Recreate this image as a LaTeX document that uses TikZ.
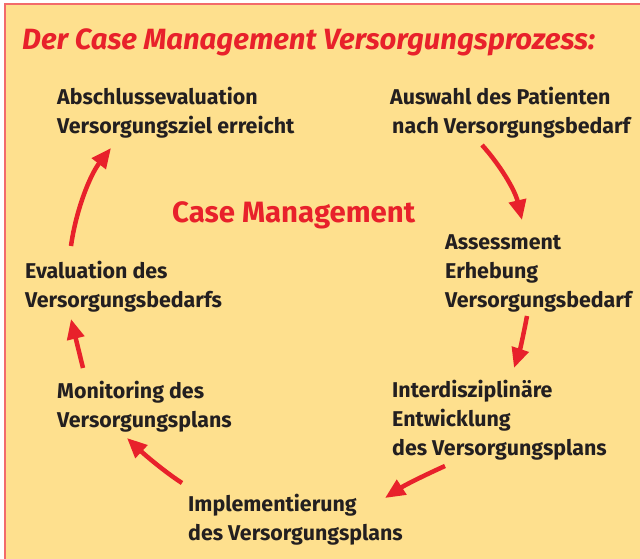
\documentclass[tikz,border=0pt]{standalone}
\usepackage{fontspec}
\setmainfont{Fira Sans}
\usetikzlibrary{arrows.meta}
\definecolor{bgfill}{HTML}{FEE08E}
\definecolor{frame}{HTML}{F26B6B}
\definecolor{cmred}{HTML}{E8212B}
\definecolor{txt}{HTML}{231F20}
\tikzset{
  lbl/.style={anchor=base west, inner sep=0pt, align=left, text=txt,
    font=\fontsize{21.4}{29}\selectfont\bfseries},
  cyc/.style={draw=cmred, line width=4.5pt,
    -{Triangle[length=20pt,width=17pt]}},
}
\begin{document}
\begin{tikzpicture}[x=1pt,y=-1pt]
\useasboundingbox (0,0) rectangle (640,559);
\fill[white] (0,0) rectangle (640,559);
\fill[bgfill] (5,4) rectangle (640,559);
\draw[frame, line width=1.5pt] (5,559) -- (5,4) -- (640,4);
\node[anchor=base west, inner sep=0pt, text=cmred,
  font=\fontsize{29.3}{30}\selectfont\bfseries\itshape] (title) at (22,50)
  {Der Case Management Versorgungsprozess:};
\node[anchor=base west, inner sep=0pt, text=cmred,
  font=\fontsize{29.4}{30}\selectfont\bfseries] (cm) at (172,222) {Case Management};
\node[lbl] (abschl) at (57,134) {Abschlussevaluation\\Versorgungsziel erreicht};
\node[lbl] (auswahl) at (390,134) {Auswahl des Patienten\\\hspace*{2pt}nach Versorgungsbedarf};
\node[lbl] (assess) at (445,307) {Assessment\\Erhebung\\Versorgungsbedarf};
\node[lbl] (inter) at (392,455) {Interdisziplinäre\\Entwicklung\\des Versorgungsplans};
\node[lbl] (impl) at (188,540) {Implementierung\\des Versorgungsplans};
\node[lbl] (monit) at (57,427) {Monitoring des\\Versorgungsplans};
\node[lbl] (evalu) at (25,307) {Evaluation des\\Versorgungsbedarfs};
\coordinate (a1s) at (482,145); \coordinate (a1e) at (522,220);
\coordinate (a2s) at (527,316); \coordinate (a2e) at (514,368);
\coordinate (a3s) at (445,466); \coordinate (a3e) at (385,498);
\coordinate (a4s) at (182,483); \coordinate (a4e) at (127,438);
\coordinate (a5s) at (83,368);  \coordinate (a5e) at (71,319);
\coordinate (a6s) at (71,246);  \coordinate (a6e) at (111,148);
\draw[cyc] (a1s) .. controls (500,165) and (515,190) .. (a1e);
\draw[cyc] (a2s) .. controls (524,332) and (520,350) .. (a2e);
\draw[cyc] (a3s) .. controls (425,475) and (405,485) .. (a3e);
\draw[cyc] (a4s) .. controls (165,472) and (145,455) .. (a4e);
\draw[cyc] (a5s) -- (a5e);
\draw[cyc] (a6s) .. controls (76,210) and (90,175) .. (a6e);
\end{tikzpicture}
\end{document}
